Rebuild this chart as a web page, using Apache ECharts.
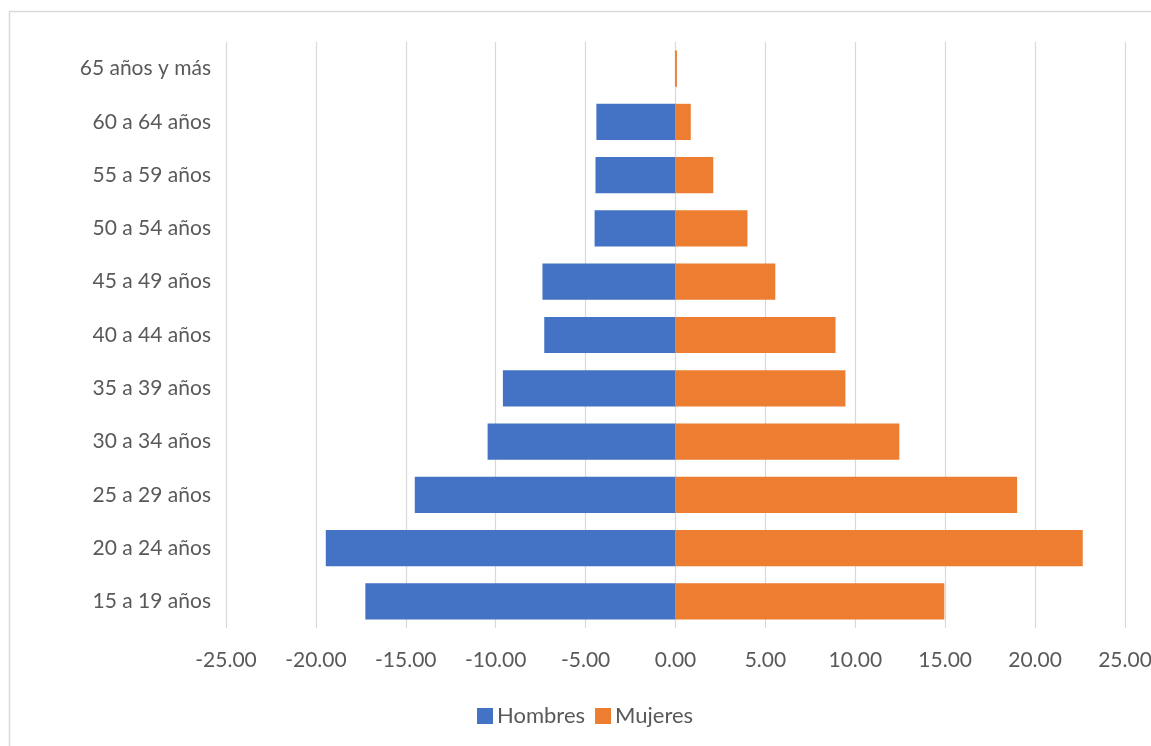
<!DOCTYPE html>
<html>
<head>
<meta charset="utf-8">
<script src="https://cdn.jsdelivr.net/npm/echarts@6/dist/echarts.min.js"></script>
<style>
html,body{margin:0;padding:0;background:#fff;}
#chart{width:1151px;height:746px;}
</style>
</head>
<body>
<div id="chart"></div>
<script>
const categories = ["15 a 19 años","20 a 24 años","25 a 29 años","30 a 34 años","35 a 39 años","40 a 44 años","45 a 49 años","50 a 54 años","55 a 59 años","60 a 64 años","65 años y más"];
const hombres = [-17.25,-19.45,-14.5,-10.45,-9.6,-7.3,-7.4,-4.5,-4.45,-4.4,-0.03];
const mujeres = [14.95,22.65,19.0,12.45,9.45,8.9,5.55,4.0,2.1,0.85,0.08];
const xTicks = {min:-25, max:25, interval:5};

const chart = echarts.init(document.getElementById('chart'), null, {renderer:'canvas'});
const font = 'Lato, "Open Sans", sans-serif';
chart.setOption({
  animation:false,
  backgroundColor:'#fff',
  textStyle:{fontFamily:font},
  graphic:[{type:'rect',shape:{x:9.5,y:11.5,width:1160,height:760},style:{fill:'none',stroke:'#d9d9d9',lineWidth:1.5},silent:true}],
  grid:{left:226,right:26,top:42,bottom:118,containLabel:false,outerBoundsMode:'none'},
  legend:{
    data:['Hombres','Mujeres'],
    top:700,left:472,
    itemWidth:16,itemHeight:16,itemGap:10,
    icon:'rect',
    textStyle:{fontSize:22,color:'#595959',fontFamily:font,padding:[0,0,0,-1]}
  },
  xAxis:{
    type:'value',min:xTicks.min,max:xTicks.max,interval:xTicks.interval,
    axisLine:{show:false},axisTick:{show:false},
    splitLine:{show:true,lineStyle:{color:'#d9d9d9',width:1.2}},
    axisLabel:{formatter:v=>v.toFixed(2),fontSize:21,color:'#595959',margin:22,fontFamily:font}
  },
  yAxis:{
    type:'category',data:categories,
    axisLine:{show:false},axisTick:{show:false},
    axisLabel:{fontSize:21,color:'#595959',margin:15,fontFamily:font}
  },
  series:[
    {name:'Hombres',type:'bar',data:hombres,barCategoryGap:'32%',barGap:'-100%',itemStyle:{color:'#4472C4'}},
    {name:'Mujeres',type:'bar',data:mujeres,barCategoryGap:'32%',barGap:'-100%',itemStyle:{color:'#ED7D31'}}
  ]
});
</script>
</body>
</html>
